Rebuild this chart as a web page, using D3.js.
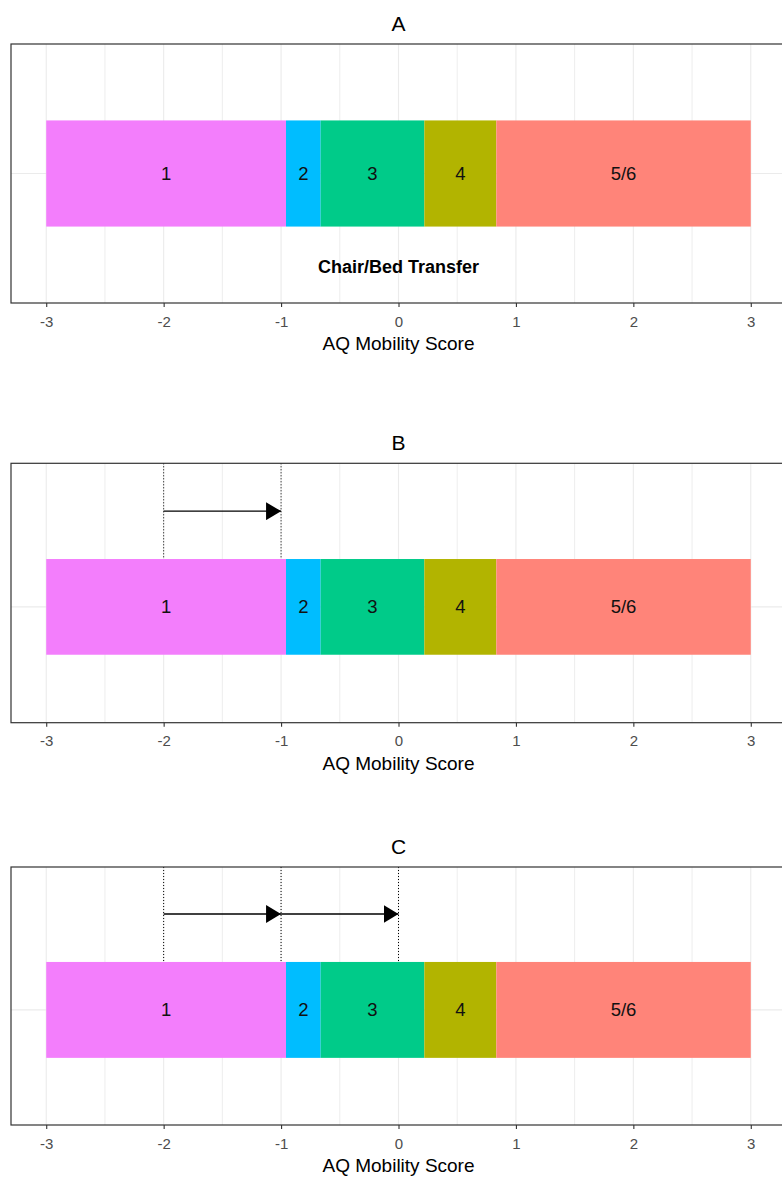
<!DOCTYPE html>
<html>
<head>
<meta charset="utf-8">
<script src="https://cdn.jsdelivr.net/npm/d3@7"></script>
<style>
  body { margin: 0; background: #fff; }
  svg { display: block; font-family: "Liberation Sans", Arial, sans-serif; }
  .tick text { font-size: 15px; }
</style>
</head>
<body>
<svg id="chart" width="782" height="1177"></svg>
<script>
// ---- data ----
const categories = ["1", "2", "3", "4", "5/6"];
const segStart = [-3, -0.958, -0.663, 0.22, 0.833];
const segEnd = [-0.958, -0.663, 0.22, 0.833, 3];
const segColors = ["#F37EFC", "#00BDFF", "#00CB89", "#B2B400", "#FF8479"];
const xTicks = [-3, -2, -1, 0, 1, 2, 3];
const xMinorTicks = [-2.5, -1.5, -0.5, 0.5, 1.5, 2.5];
const panelTitles = ["A", "B", "C"];
const axisTitle = "AQ Mobility Score";
const itemLabel = "Chair/Bed Transfer";
const arrowsA = [];
const arrowsB = [[-2, -1]];
const arrowsC = [[-2, -1], [-1, 0]];
const dottedA = [];
const dottedB = [-2, -1];
const dottedC = [-2, -1, 0];

// ---- layout ----
const svg = d3.select("#chart");
const x = d3.scaleLinear().domain([-3.3, 3.3]).range([11, 786]);

svg.append("defs").append("marker")
  .attr("id", "head")
  .attr("markerUnits", "userSpaceOnUse")
  .attr("viewBox", "0 -9 15 18")
  .attr("refX", 15).attr("refY", 0)
  .attr("markerWidth", 15).attr("markerHeight", 18)
  .attr("orient", "auto")
  .append("path").attr("d", "M0,-9L15,0L0,9Z").attr("fill", "#000");

const panels = [
  { title: panelTitles[0], top: 44, bottom: 303, yDom: [-0.22, 2.22], arrows: arrowsA, dotted: dottedA, label: true },
  { title: panelTitles[1], top: 463.3, bottom: 722.7, yDom: [-0.21, 2.5], arrows: arrowsB, dotted: dottedB, label: false },
  { title: panelTitles[2], top: 867, bottom: 1125, yDom: [-0.2, 2.49], arrows: arrowsC, dotted: dottedC, label: false }
];

const barLo = 0.5, barHi = 1.5, catY = 1, arrowY = 2, labelY = 0.12;

panels.forEach(p => {
  const y = d3.scaleLinear().domain(p.yDom).range([p.bottom, p.top]);
  const g = svg.append("g");

  // title
  g.append("text").attr("x", x(0)).attr("y", p.top - 13.5)
    .attr("text-anchor", "middle").attr("font-size", 21).attr("fill", "#000")
    .text(p.title);

  // minor grid
  g.selectAll(".minor").data(xMinorTicks).join("line")
    .attr("x1", d => x(d)).attr("x2", d => x(d))
    .attr("y1", p.top).attr("y2", p.bottom)
    .attr("stroke", "#EBEBEB").attr("stroke-width", 0.9);
  // major grid
  g.selectAll(".major").data(xTicks).join("line")
    .attr("x1", d => x(d)).attr("x2", d => x(d))
    .attr("y1", p.top).attr("y2", p.bottom)
    .attr("stroke", "#EBEBEB").attr("stroke-width", 1.1);
  g.append("line").attr("x1", x(-3.3)).attr("x2", x(3.3))
    .attr("y1", y(catY)).attr("y2", y(catY))
    .attr("stroke", "#EBEBEB").attr("stroke-width", 1.1);

  // bars
  g.selectAll("rect.seg").data(categories).join("rect")
    .attr("x", (d, i) => x(segStart[i]))
    .attr("width", (d, i) => x(segEnd[i]) - x(segStart[i]))
    .attr("y", y(barHi)).attr("height", y(barLo) - y(barHi))
    .attr("fill", (d, i) => segColors[i]);
  g.selectAll("text.seg").data(categories).join("text")
    .attr("x", (d, i) => x((segStart[i] + segEnd[i]) / 2))
    .attr("y", y(catY)).attr("dy", "0.35em")
    .attr("text-anchor", "middle").attr("font-size", 18.5).attr("fill", "#111")
    .text(d => d);

  if (p.label) {
    g.append("text").attr("x", x(0)).attr("y", y(labelY)).attr("dy", "0.35em")
      .attr("text-anchor", "middle").attr("font-size", 18).attr("font-weight", "bold")
      .attr("fill", "#000").text(itemLabel);
  }

  // dotted verticals
  g.selectAll("line.dot").data(p.dotted).join("line")
    .attr("x1", d => x(d)).attr("x2", d => x(d))
    .attr("y1", p.top).attr("y2", y(barHi))
    .attr("stroke", "#000").attr("stroke-width", 1).attr("stroke-dasharray", "1,2");

  // arrows
  g.selectAll("line.arrow").data(p.arrows).join("line")
    .attr("x1", d => x(d[0])).attr("x2", d => x(d[1]))
    .attr("y1", y(arrowY)).attr("y2", y(arrowY))
    .attr("stroke", "#000").attr("stroke-width", 1.3)
    .attr("marker-end", "url(#head)");

  // panel border
  g.append("rect").attr("x", x(-3.3)).attr("y", p.top)
    .attr("width", x(3.3) - x(-3.3)).attr("height", p.bottom - p.top)
    .attr("fill", "none").attr("stroke", "#333").attr("stroke-width", 1.2);

  // x axis
  const ax = g.append("g").attr("transform", `translate(0,${p.bottom})`)
    .call(d3.axisBottom(x).tickValues(xTicks).tickSize(4).tickPadding(9).tickSizeOuter(0)
      .tickFormat(d3.format("d")));
  ax.attr("font-size", 15).attr("font-family", "Liberation Sans, Arial, sans-serif");
  ax.select(".domain").remove();
  ax.selectAll(".tick line").attr("stroke", "#333").attr("stroke-width", 1.1);
  ax.selectAll(".tick text").attr("fill", "#4D4D4D")
    .attr("dy", "0.35em").attr("y", 18.5)
    .text(d => d < 0 ? "-" + Math.abs(d) : String(d));

  g.append("text").attr("x", x(0)).attr("y", p.bottom + 47)
    .attr("text-anchor", "middle").attr("font-size", 19).attr("fill", "#000")
    .text(axisTitle);
});
</script>
</body>
</html>
